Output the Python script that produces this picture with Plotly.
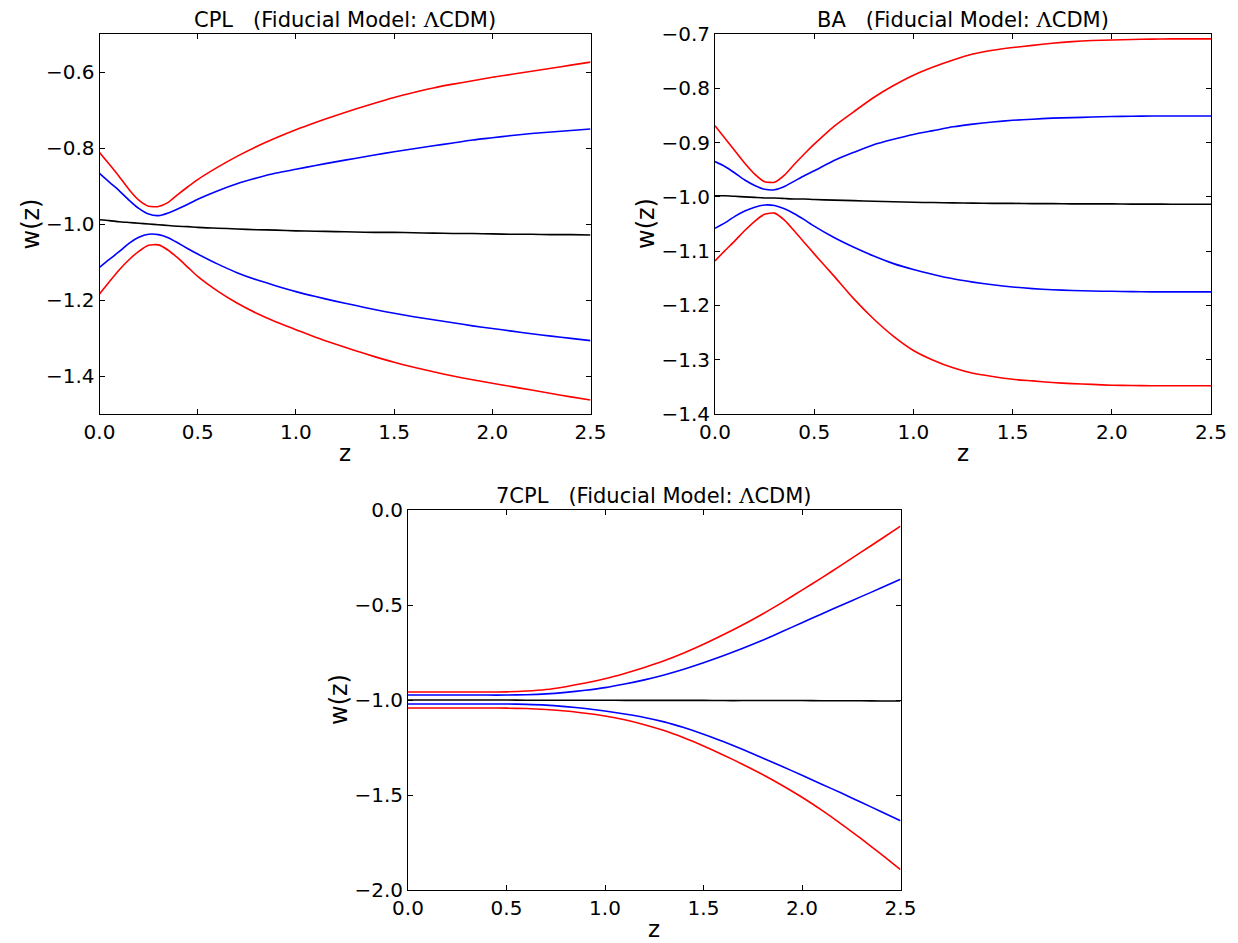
import plotly.graph_objects as go

# The page body keeps the browser's default 8px margin, so the figure is drawn
# 8px smaller than the window and every pixel position below (taken from the
# reference picture) is shifted by that margin.
WIN_W, WIN_H = 1238, 943
OFF = 8
W, H = WIN_W - OFF, WIN_H - OFF

# ---------------- data ----------------
z_fine = [0.0, 0.05, 0.1, 0.15, 0.2, 0.25, 0.3, 0.35, 0.4, 0.45, 0.5,
          0.6, 0.7, 0.8, 0.9, 1.0, 1.1, 1.2, 1.3, 1.4, 1.5, 1.6, 1.7, 1.8, 1.9,
          2.0, 2.1, 2.2, 2.3, 2.4, 2.5]

cpl_red_up = [-0.812, -0.843, -0.875, -0.909, -0.937, -0.953, -0.954, -0.943, -0.922, -0.902, -0.883,
              -0.851, -0.822, -0.796, -0.773, -0.752, -0.733, -0.715, -0.698, -0.682, -0.667,
              -0.654, -0.642, -0.632, -0.623, -0.614, -0.606, -0.598, -0.590, -0.582, -0.574]
cpl_blue_up = [-0.867, -0.890, -0.912, -0.937, -0.959, -0.974, -0.978, -0.971, -0.960, -0.948, -0.935,
               -0.913, -0.894, -0.879, -0.866, -0.856, -0.846, -0.8365, -0.8275, -0.8185, -0.810,
               -0.802, -0.794, -0.787, -0.779, -0.773, -0.767, -0.762, -0.758, -0.754, -0.750]
cpl_black = [-0.989, -0.991, -0.994, -0.996, -0.998, -1.000, -1.002, -1.004, -1.006, -1.007, -1.009,
             -1.011, -1.013, -1.015, -1.016, -1.018, -1.019, -1.020, -1.021, -1.022, -1.022,
             -1.023, -1.024, -1.025, -1.025, -1.026, -1.027, -1.027, -1.028, -1.028, -1.029]
cpl_blue_lo = [-1.114, -1.093, -1.073, -1.051, -1.035, -1.027, -1.028, -1.036, -1.050, -1.065, -1.079,
               -1.105, -1.128, -1.147, -1.163, -1.178, -1.191, -1.203, -1.214, -1.225, -1.235,
               -1.244, -1.252, -1.260, -1.268, -1.275, -1.282, -1.289, -1.295, -1.301, -1.307]
cpl_red_lo = [-1.184, -1.152, -1.121, -1.094, -1.072, -1.056, -1.055, -1.069, -1.090, -1.114, -1.138,
              -1.176, -1.208, -1.235, -1.258, -1.278, -1.298, -1.316, -1.333, -1.349, -1.364,
              -1.377, -1.389, -1.400, -1.410, -1.419, -1.428, -1.437, -1.446, -1.455, -1.463]

ba_red_up = [-0.869, -0.892, -0.915, -0.938, -0.958, -0.972, -0.973, -0.960, -0.940, -0.921, -0.903,
             -0.870, -0.843, -0.817, -0.795, -0.776, -0.761, -0.748, -0.737, -0.730, -0.725,
             -0.721, -0.717, -0.714, -0.712, -0.711, -0.710, -0.7095, -0.709, -0.709, -0.709]
ba_blue_up = [-0.935, -0.944, -0.956, -0.969, -0.979, -0.986, -0.987, -0.981, -0.971, -0.961, -0.952,
              -0.933, -0.918, -0.904, -0.894, -0.885, -0.878, -0.871, -0.866, -0.862, -0.859,
              -0.857, -0.855, -0.854, -0.853, -0.852, -0.8515, -0.851, -0.851, -0.851, -0.851]
ba_black = [-0.998, -0.998, -0.999, -1.000, -1.001, -1.002, -1.002, -1.003, -1.004, -1.004, -1.005,
            -1.006, -1.007, -1.008, -1.009, -1.010, -1.0105, -1.011, -1.0115, -1.012, -1.012,
            -1.0125, -1.0125, -1.013, -1.013, -1.013, -1.0133, -1.0133, -1.0135, -1.0135, -1.0135]
ba_blue_lo = [-1.058, -1.048, -1.036, -1.026, -1.019, -1.015, -1.016, -1.022, -1.031, -1.042, -1.054,
              -1.075, -1.093, -1.109, -1.123, -1.134, -1.143, -1.151, -1.157, -1.162, -1.166,
              -1.169, -1.171, -1.1725, -1.1735, -1.174, -1.1745, -1.175, -1.175, -1.175, -1.175]
ba_red_lo = [-1.118, -1.099, -1.081, -1.062, -1.045, -1.032, -1.030, -1.043, -1.063, -1.084, -1.105,
             -1.146, -1.188, -1.225, -1.257, -1.283, -1.301, -1.315, -1.325, -1.331, -1.336,
             -1.339, -1.342, -1.344, -1.3455, -1.347, -1.3475, -1.348, -1.348, -1.348, -1.348]

z_7 = [0.0, 0.1, 0.2, 0.3, 0.4, 0.5, 0.6, 0.7, 0.8, 0.9, 1.0, 1.1, 1.2, 1.3, 1.4, 1.5,
       1.6, 1.7, 1.8, 1.9, 2.0, 2.1, 2.2, 2.3, 2.4, 2.5]
c7_red_up = [-0.958, -0.958, -0.958, -0.958, -0.958, -0.957, -0.953, -0.945, -0.930, -0.911, -0.888,
             -0.860, -0.829, -0.794, -0.753, -0.707, -0.657, -0.604, -0.547, -0.486, -0.422,
             -0.357, -0.290, -0.222, -0.154, -0.085]
c7_blue_up = [-0.974, -0.974, -0.974, -0.974, -0.974, -0.974, -0.972, -0.968, -0.960, -0.949, -0.935,
              -0.916, -0.894, -0.868, -0.838, -0.804, -0.767, -0.727, -0.685, -0.640, -0.593,
              -0.547, -0.501, -0.456, -0.411, -0.365]
c7_black = [-1.000, -1.000, -1.000, -1.000, -1.000, -1.000, -1.001, -1.001, -1.001, -1.001, -1.001,
            -1.002, -1.002, -1.002, -1.002, -1.002, -1.003, -1.003, -1.003, -1.003, -1.003,
            -1.004, -1.004, -1.004, -1.005, -1.005]
c7_blue_lo = [-1.021, -1.021, -1.021, -1.021, -1.021, -1.021, -1.023, -1.027, -1.035, -1.045, -1.058,
              -1.074, -1.092, -1.115, -1.145, -1.180, -1.219, -1.261, -1.305, -1.350, -1.396,
              -1.443, -1.490, -1.538, -1.587, -1.636]
c7_red_lo = [-1.042, -1.042, -1.042, -1.042, -1.042, -1.043, -1.045, -1.050, -1.058, -1.070, -1.084,
             -1.104, -1.130, -1.161, -1.199, -1.242, -1.289, -1.339, -1.392, -1.450, -1.512,
             -1.580, -1.653, -1.730, -1.810, -1.893]

titles = ["CPL", "BA", "7CPL"]
x_ticks = [0.0, 0.5, 1.0, 1.5, 2.0, 2.5]
x_ticktext = ["0.0", "0.5", "1.0", "1.5", "2.0", "2.5"]
y_ticks_cpl = [-1.4, -1.2, -1.0, -0.8, -0.6]
y_ticks_ba = [-1.4, -1.3, -1.2, -1.1, -1.0, -0.9, -0.8, -0.7]
y_ticks_7 = [-2.0, -1.5, -1.0, -0.5, 0.0]

# ---------------- layout geometry (window pixels) ----------------
panels = [
    dict(x0=99.5, x1=590.5, y0=34, y1=414, yr=[-1.5, -0.5], yt=y_ticks_cpl,
         z=z_fine, series=[cpl_red_up, cpl_blue_up, cpl_black, cpl_blue_lo, cpl_red_lo]),
    dict(x0=715, x1=1211, y0=34, y1=414, yr=[-1.4, -0.7], yt=y_ticks_ba,
         z=z_fine, series=[ba_red_up, ba_blue_up, ba_black, ba_blue_lo, ba_red_lo]),
    dict(x0=408, x1=900.5, y0=510, y1=890, yr=[-2.0, 0.0], yt=y_ticks_7,
         z=z_7, series=[c7_red_up, c7_blue_up, c7_black, c7_blue_lo, c7_red_lo]),
]
colors = ["#ff0000", "#0000ff", "#000000", "#0000ff", "#ff0000"]


def px(x):
    return (x - OFF) / W


def py(y):
    return 1 - (y - OFF) / H


FONT = "DejaVu Sans"
fig = go.Figure()
layout = dict(width=W, height=H, margin=dict(l=0, r=0, t=0, b=0, autoexpand=False),
              paper_bgcolor="white", plot_bgcolor="white", showlegend=False,
              font=dict(family=FONT, color="black"))
annotations = []


def fmt(v):
    return "{:.1f}".format(v).replace("-", "\u2212")


for i, p in enumerate(panels):
    n = "" if i == 0 else str(i + 1)
    xa, ya = "x" + n, "y" + n
    for s, c in zip(p["series"], colors):
        fig.add_trace(go.Scatter(x=p["z"], y=s, mode="lines", xaxis=xa, yaxis=ya,
                                 line=dict(color=c, width=1.6, shape="spline", smoothing=0.6),
                                 hoverinfo="skip"))
    common = dict(showline=True, linecolor="black", linewidth=1, mirror="ticks",
                  ticks="inside", ticklen=5, tickwidth=1, tickcolor="black",
                  showgrid=False, zeroline=False, automargin=False,
                  tickfont=dict(family=FONT, size=20, color="black"))
    layout["xaxis" + n] = dict(domain=[px(p["x0"]), px(p["x1"])], range=[0, 2.5],
                               tickvals=x_ticks, ticktext=x_ticktext,
                               anchor=ya, **common)
    layout["yaxis" + n] = dict(domain=[py(p["y1"]), py(p["y0"])], range=p["yr"],
                               tickvals=p["yt"], ticktext=[fmt(v) for v in p["yt"]],
                               anchor=xa, **common)
    cx = (p["x0"] + p["x1"]) / 2
    annotations.append(dict(
        text=titles[i] + "   (Fiducial Model: <span style='font-family:DejaVu Serif'>\u039b</span>CDM)",
        x=px(cx), y=py(p["y0"] - 14), xref="paper", yref="paper",
        xanchor="center", yanchor="middle", showarrow=False,
        font=dict(family=FONT, size=21, color="black")))
    annotations.append(dict(text="z", x=px(cx), y=py(p["y1"] + 39),
                            xref="paper", yref="paper", xanchor="center", yanchor="middle",
                            showarrow=False, font=dict(family=FONT, size=23, color="black")))
    annotations.append(dict(text="w(z)", x=px(p["x0"] - 69), y=py((p["y0"] + p["y1"]) / 2),
                            xref="paper", yref="paper", xanchor="center", yanchor="middle",
                            textangle=-90, showarrow=False,
                            font=dict(family=FONT, size=24, color="black")))

layout["annotations"] = annotations
fig.update_layout(**layout)
fig.write_html("out.html")
